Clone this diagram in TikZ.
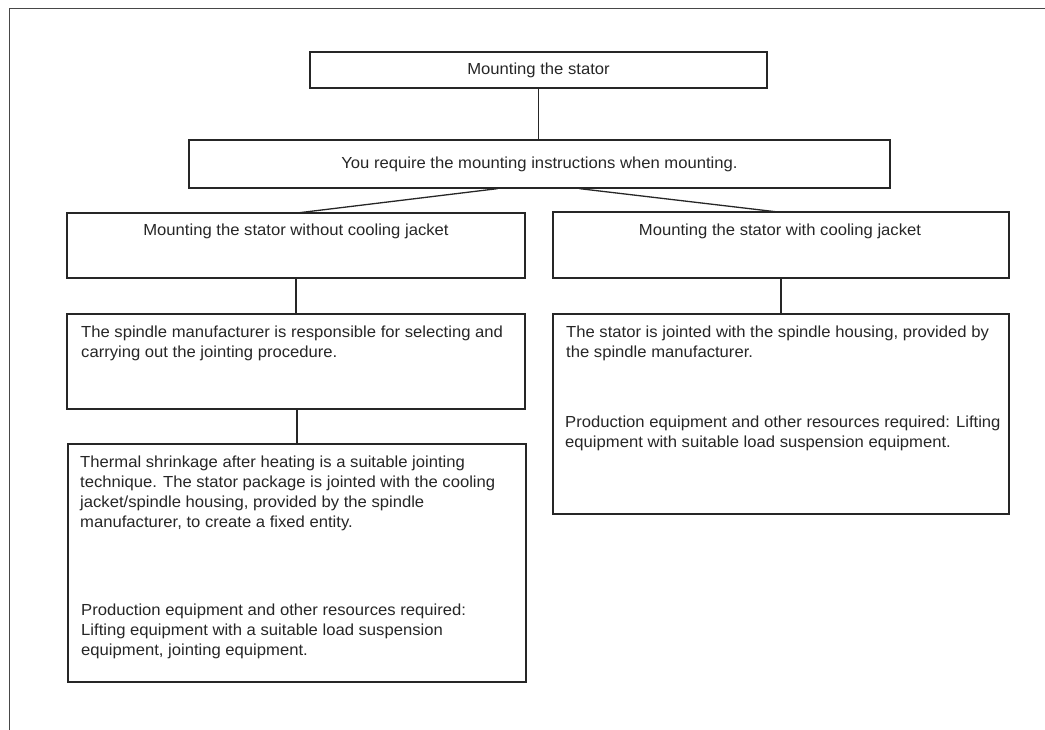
\documentclass[tikz,border=0pt]{standalone}
\usepackage{fontspec}
\setmainfont{Liberation Sans}[FakeStretch=1.04]
\usetikzlibrary{fit}
\definecolor{ink}{HTML}{262626}
\tikzset{
  box/.style={draw=ink, line width=1.3pt, inner sep=0pt, rectangle},
  txt/.style={inner sep=0pt, text=ink, font=\fontsize{16}{20}\selectfont, align=left, anchor=north west},
  ctxt/.style={inner sep=0pt, text=ink, font=\fontsize{16}{20}\selectfont, align=center},
  link/.style={draw=ink, line width=1.3pt}
}
\begin{document}
\begin{tikzpicture}[x=1pt,y=-1pt]
\useasboundingbox (0,0) rectangle (1045,730);
% outer frame
\draw[draw=ink!85, line width=1.8pt] (9.5,730) -- (9.5,8.5) -- (1045,8.5);
% boxes
\node[box, fit={(310,52) (767,88)}] (top) {};
\node[ctxt] (toptxt) at (top.center) {Mounting the stator};
\node[box, fit={(189,140) (890,188)}] (req) {};
\node[ctxt] (reqtxt) at (req.center) {You require the mounting instructions when mounting.};
\node[box, fit={(67,213) (525,278)}] (L1) {};
\node[ctxt, anchor=north] (L1txt) at (296,224) {Mounting the stator without cooling jacket};
\node[box, fit={(553,212) (1009,278)}] (R1) {};
\node[ctxt, anchor=north] (R1txt) at (780,224) {Mounting the stator with cooling jacket};
\node[box, fit={(67,314) (525,409)}] (L2) {};
\node[txt] (L2txt) at (81,326) {The spindle manufacturer is responsible for selecting and\\carrying out the jointing procedure.};
\node[box, fit={(553,314) (1009,514)}] (R2) {};
\node[txt] (R2a) at (566,326) {The stator is jointed with the spindle housing, provided by\\the spindle manufacturer.};
\node[txt] (R2b) at (565,416) {Production equipment and other resources required: Lifting\\equipment with suitable load suspension equipment.};
\node[box, fit={(68,444) (526,682)}] (L3) {};
\node[txt] (L3a) at (80,456) {Thermal shrinkage after heating is a suitable jointing\\technique. The stator package is jointed with the cooling\\jacket/spindle housing, provided by the spindle\\manufacturer, to create a fixed entity.};
\node[txt] (L3b) at (81,604) {Production equipment and other resources required:\\Lifting equipment with a suitable load suspension\\equipment, jointing equipment.};
% connectors
\draw[link] (top.south) -- (top.south |- req.north);
\draw[link] (req.south) ++(-42,0) -- (297,213);
\draw[link] (req.south) ++(40,0) -- (778,212);
\draw[link] (L1.south) -- (L2.north);
\draw[link] (R1.south) -- (R2.north);
\draw[link] (L2.south) ++(1,0) -- (L3.north);
\end{tikzpicture}
\end{document}
